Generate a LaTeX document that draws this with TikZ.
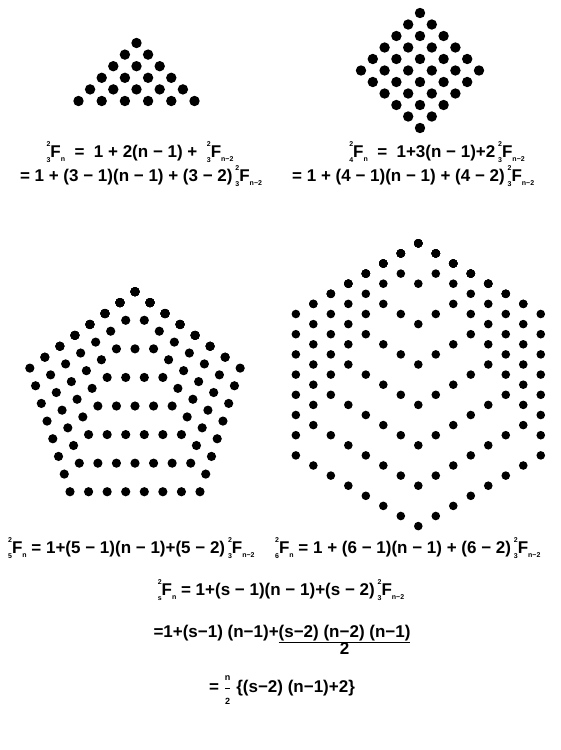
\documentclass[tikz,border=0pt]{standalone}
\usepackage{fontspec}
\setmainfont{Liberation Sans}
\newcommand\pF[3]{\makebox[0pt][l]{\raisebox{1.25ex}{\scriptsize#1}}\raisebox{-.55ex}{\scriptsize#2}F\raisebox{-.45ex}{\scriptsize#3}}
\tikzset{formula/.style={font=\fontsize{17}{19}\selectfont\bfseries, inner sep=0pt}}

\begin{document}
\begin{tikzpicture}[x=1pt, y=-1pt]
  \useasboundingbox (0,0) rectangle (560,750);
  \foreach \r in {0,...,5}
    \foreach \c in {0,...,\r}
      \fill ({136.5+\c*23.2-\r*11.6}, {43+\r*11.6}) circle (5.2pt);
  \foreach \i in {0,...,5}
    \foreach \j in {0,...,5}
      \fill ({420+(\j-\i)*11.8}, {13+(\i+\j)*11.5}) circle (5.2pt);
  \coordinate (P) at (135, 291.7);
  \foreach \k in {2,...,8}
    \fill (P) \foreach \a in {144,72,0,-72,-144}{
      \foreach \j in {2,...,\k}{ circle (4.6pt) ++(\a:18.57) } };
  \coordinate (H) at (418.3, 243.3);
  \foreach \k in {2,...,8}
    \fill (H) \foreach \a in {150,90,30,-30,-90,-150}{
      \foreach \j in {2,...,\k}{ circle (4.3pt) ++(\a:20.2) } };
  \node[formula] (f1) at (140, 152) {\pF{2}{3}{n}\ \ = \ 1 + 2(n − 1) + \ \pF{2}{3}{n−2}};
  \node[formula] (f2) at (141, 176) {= 1 + (3 − 1)(n − 1) + (3 − 2)\,\pF{2}{3}{n−2}};
  \node[formula] (f3) at (437, 152) {\pF{2}{4}{n}\ \ = \ 1+3(n − 1)+2\,\pF{2}{3}{n−2}};
  \node[formula, anchor=west] (f4) at (292, 176) {= 1 + (4 − 1)(n − 1) + (4 − 2)\,\pF{2}{3}{n−2}};
  \node[formula, anchor=west] (f5) at (8, 548) {\pF{2}{5}{n} = 1+(5 − 1)(n − 1)+(5 − 2)\,\pF{2}{3}{n−2}};
  \node[formula, anchor=west] (f6) at (275, 548) {\pF{2}{6}{n} = 1 + (6 − 1)(n − 1) + (6 − 2)\,\pF{2}{3}{n−2}};
  \node[formula] (f7) at (281, 590) {\pF{2}{s}{n} = 1+(s − 1)(n − 1)+(s − 2)\,\pF{2}{3}{n−2}};
  \node[formula, anchor=base] (f8) at (282, 637) {=1+(s−1) (n−1)+\begin{tabular}[t]{@{}c@{}}\underline{(s−2) (n−2) (n−1)}\\[-2pt]2\end{tabular}};
  \node[formula] (f9) at (282, 690) {=\ \ensuremath{\displaystyle\frac{\mbox{\small n}}{\mbox{\small 2}}}\ \{(s−2) (n−1)+2\}};
\end{tikzpicture}
\end{document}
